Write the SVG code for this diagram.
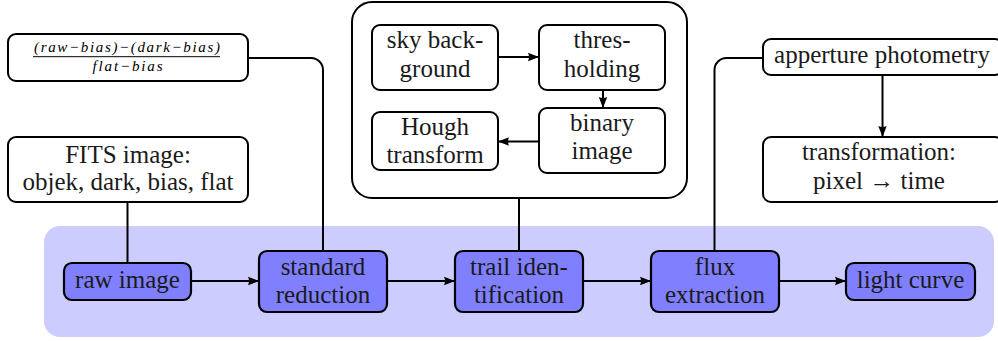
<svg xmlns="http://www.w3.org/2000/svg" width="998" height="341" viewBox="0 0 998 341">
<defs>
<marker id="ah" markerUnits="userSpaceOnUse" markerWidth="12" markerHeight="10" refX="11" refY="5" orient="auto">
<path d="M0,0.8 L11,5 L0,9.2 Q2,5 0,0.8 z" fill="#000"/>
</marker>
<style>
.box{fill:#fff;stroke:#000;stroke-width:2}
.blue{fill:#8080ff;stroke:#000;stroke-width:2.2}
.t{font-family:'Liberation Serif',Tinos,'Times New Roman','Noto Serif','DejaVu Serif',FreeSerif,serif;font-size:25px;fill:#1a1a1a;text-anchor:middle}
.m{font-family:'Liberation Serif',Tinos,'Times New Roman','Noto Serif','DejaVu Serif',FreeSerif,serif;font-style:italic;font-size:15px;fill:#000;text-anchor:middle}
.c{fill:none;stroke:#000;stroke-width:2}
.a{fill:none;stroke:#000;stroke-width:2;marker-end:url(#ah)}
</style>
</defs>
<rect id="band" x="44" y="226" width="950" height="111" rx="16" fill="#ccccff"/>
<g id="trailbox">
<rect class="box" x="352" y="2" width="335" height="196" rx="20"/>
</g>
<g id="connectors">
<path class="c" d="M127.5,202 V263"/>
<path class="c" d="M248,58 H311 A12,12 0 0 1 323,70 V251"/>
<path class="c" d="M519,198 V251"/>
<path class="c" d="M714.5,251 V70 A12,12 0 0 1 726.5,58 H763"/>
<path class="a" d="M191,281 H259"/>
<path class="a" d="M387,281 H455"/>
<path class="a" d="M583,281 H651"/>
<path class="a" d="M779,281 H846"/>
<path class="a" d="M498,57 H539"/>
<path class="a" d="M603,90 V108"/>
<path class="a" d="M539,141.5 H498"/>
<path class="a" d="M882.5,75 V137"/>
</g>
<g id="formula">
<rect class="box" x="8" y="34" width="240" height="47" rx="8"/>
<text class="m" x="127" y="52" textLength="186" lengthAdjust="spacing">(raw−bias)−(dark−bias)</text>
<line x1="33" y1="56.7" x2="220" y2="56.7" stroke="#000" stroke-width="1"/>
<text class="m" x="127.5" y="71" textLength="70" lengthAdjust="spacing">flat−bias</text>
</g>
<g id="fits">
<rect class="box" x="8" y="137" width="240" height="65" rx="8"/>
<text class="t" x="128" y="163">FITS image:</text>
<text class="t" x="128" y="190">objek, dark, bias, flat</text>
</g>
<g id="sky">
<rect class="box" x="372" y="25" width="126" height="65" rx="8"/>
<text class="t" x="435" y="48">sky back-</text>
<text class="t" x="435" y="77">ground</text>
</g>
<g id="thres">
<rect class="box" x="539" y="25" width="126" height="65" rx="8"/>
<text class="t" x="602" y="48">thres-</text>
<text class="t" x="602" y="77">holding</text>
</g>
<g id="binary">
<rect class="box" x="539" y="108" width="126" height="65" rx="8"/>
<text class="t" x="602" y="131">binary</text>
<text class="t" x="602" y="159">image</text>
</g>
<g id="hough">
<rect class="box" x="372" y="112" width="126" height="58" rx="8"/>
<text class="t" x="435" y="135">Hough</text>
<text class="t" x="435" y="163">transform</text>
</g>
<g id="apperture">
<rect class="box" x="763" y="39" width="240" height="36" rx="8"/>
<text class="t" x="882" y="63">apperture photometry</text>
</g>
<g id="transformation">
<rect class="box" x="763" y="137" width="240" height="65" rx="8"/>
<text class="t" x="879" y="160">transformation:</text>
<text class="t" x="879" y="189">pixel → time</text>
</g>
<g id="raw">
<rect class="blue" x="64" y="263" width="127" height="37" rx="8"/>
<text class="t" x="127.5" y="288">raw image</text>
</g>
<g id="standard">
<rect class="blue" x="259" y="251" width="128" height="61" rx="8"/>
<text class="t" x="323" y="275">standard</text>
<text class="t" x="323" y="303">reduction</text>
</g>
<g id="trail">
<rect class="blue" x="455" y="251" width="128" height="61" rx="8"/>
<text class="t" x="519" y="275">trail iden-</text>
<text class="t" x="519" y="303">tification</text>
</g>
<g id="flux">
<rect class="blue" x="651" y="251" width="128" height="61" rx="8"/>
<text class="t" x="715" y="275">flux</text>
<text class="t" x="715" y="303">extraction</text>
</g>
<g id="light">
<rect class="blue" x="846" y="263" width="129" height="37" rx="8"/>
<text class="t" x="910.5" y="288">light curve</text>
</g>
</svg>
